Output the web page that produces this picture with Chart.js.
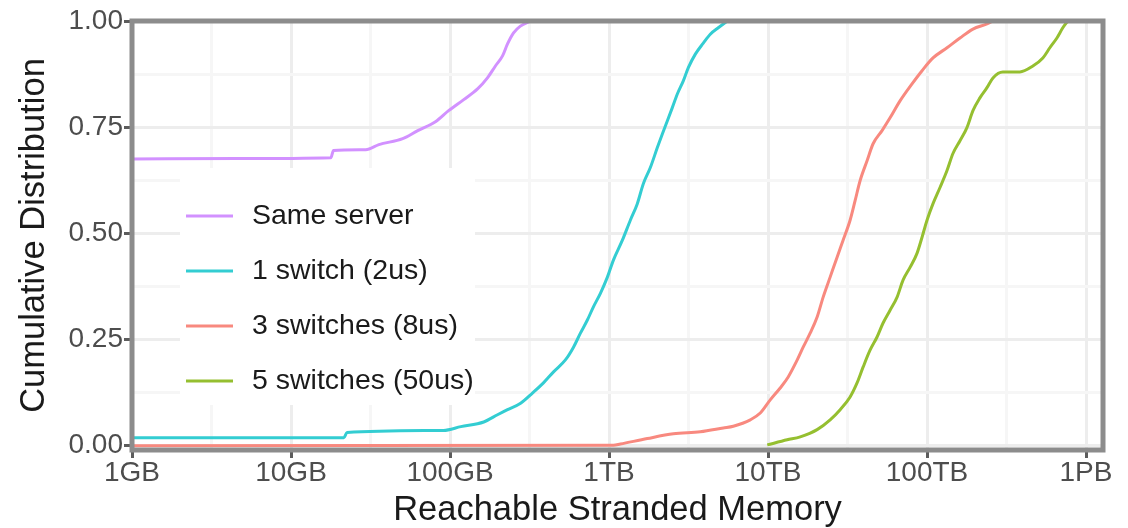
<!DOCTYPE html>
<html>
<head>
<meta charset="utf-8">
<script src="https://cdn.jsdelivr.net/npm/chart.js@4"></script>
<style>
  body { margin: 0; background: #fff; }
</style>
</head>
<body>
<canvas id="chart" width="1128" height="528"></canvas>
<script>
// memory sizes are in GB, values are cumulative fractions
const sameServerX = [1, 4.6, 17.8, 18.5, 29.5, 35.7, 50.4, 62.7, 81, 98, 122, 149, 172, 193, 214, 230, 251, 277, 321];
const sameServerY = [0.675, 0.676, 0.678, 0.695, 0.697, 0.709, 0.723, 0.742, 0.763, 0.789, 0.815, 0.840, 0.866, 0.894, 0.918, 0.946, 0.972, 0.988, 1.0];

const oneSwitchX = [1, 21.5, 22.5, 91, 117, 163, 199, 230, 278, 330, 387, 448, 532, 598, 661, 731, 798, 883, 977, 1066, 1214, 1362, 1507, 1644, 1820, 2014, 2165, 2329, 2502, 2690, 2933, 3155, 3491, 3918, 4335, 4866, 5546];
const oneSwitchY = [0.019, 0.019, 0.031, 0.036, 0.045, 0.056, 0.073, 0.085, 0.100, 0.124, 0.148, 0.174, 0.202, 0.232, 0.265, 0.296, 0.327, 0.359, 0.397, 0.437, 0.484, 0.531, 0.570, 0.617, 0.655, 0.702, 0.734, 0.765, 0.796, 0.828, 0.859, 0.890, 0.922, 0.948, 0.969, 0.984, 1.0];

const threeSwitchX = [1, 1066, 1179, 1742, 2541, 3751, 5233, 6050, 7740, 8940, 10330, 11930, 13400, 15270, 16640, 18410, 20370, 22230, 24590, 27200, 29670, 32830, 35300, 37940, 41980, 45810, 52150, 58570, 67660, 80500, 93070, 109100, 133600, 161200, 194500, 238300, 259900];
const threeSwitchY = [0.0, 0.001, 0.004, 0.017, 0.028, 0.033, 0.042, 0.046, 0.061, 0.077, 0.108, 0.136, 0.162, 0.202, 0.232, 0.265, 0.303, 0.350, 0.397, 0.444, 0.484, 0.531, 0.577, 0.624, 0.671, 0.711, 0.742, 0.772, 0.812, 0.852, 0.883, 0.913, 0.937, 0.960, 0.981, 0.993, 1.0];

const fiveSwitchX = [9890, 13200, 15950, 20370, 24590, 28430, 32830, 36310, 39620, 43830, 48500, 52940, 58570, 64860, 70680, 78220, 86500, 93070, 100000, 109100, 120700, 133600, 145600, 161200, 178300, 194500, 215100, 238300, 259900, 300100, 383800, 463300, 535400, 592300, 656200, 714700, 768400];
const fiveSwitchY = [0.002, 0.014, 0.021, 0.038, 0.061, 0.085, 0.115, 0.148, 0.185, 0.225, 0.256, 0.289, 0.319, 0.350, 0.390, 0.420, 0.453, 0.491, 0.531, 0.570, 0.608, 0.648, 0.688, 0.718, 0.749, 0.789, 0.819, 0.843, 0.866, 0.880, 0.880, 0.894, 0.913, 0.937, 0.960, 0.984, 1.0];

const seriesLabels = ['Same server', '1 switch (2us)', '3 switches (8us)', '5 switches (50us)'];
const seriesColors = ['#d291ff', '#33cdd2', '#f8897f', '#95bf30'];

const xTickValues = [1, 10, 100, 1000, 10000, 100000, 1000000];
const xTickLabels = ['1GB', '10GB', '100GB', '1TB', '10TB', '100TB', '1PB'];
const yTickValues = [0, 0.25, 0.5, 0.75, 1];

const FONT = '"Liberation Sans", Arial, sans-serif';

function points(xs, ys) {
    return xs.map((x, i) => ({ x: x, y: ys[i] }));
}

const seriesData = [
    points(sameServerX, sameServerY),
    points(oneSwitchX, oneSwitchY),
    points(threeSwitchX, threeSwitchY),
    points(fiveSwitchX, fiveSwitchY)
];

// majors on even index, minor (midpoint) lines on odd index
function withMinors(values, mid) {
    let out = [];
    values.forEach((v, i) => {
        out.push({ value: v });
        if (i < values.length - 1) out.push({ value: mid(v, values[i + 1]) });
    });
    return out;
}

const gridOpts = {
    color: c => c.index % 2 === 0 ? '#ededed' : '#f6f6f6',
    lineWidth: 3,
    tickColor: c => c.index % 2 === 0 ? '#5c5c5c' : 'rgba(0,0,0,0)',
    tickLength: 8,
    tickWidth: 3
};

// panel border and legend, drawn on top like in ggplot
const panelPlugin = {
    id: 'panel',
    afterDatasetsDraw(chart) {
        const { ctx, chartArea: a } = chart;
        ctx.save();
        ctx.strokeStyle = '#8c8c8c';
        ctx.lineWidth = 5;
        ctx.strokeRect(a.left, a.top, a.right - a.left, a.bottom - a.top);
        ctx.restore();
    },
    afterDraw(chart) {
        const ctx = chart.ctx;
        ctx.save();
        ctx.fillStyle = '#fff';
        ctx.fillRect(180, 168, 295, 237);
        chart.data.datasets.forEach((ds, i) => {
            let y = 216 + i * 55;
            ctx.strokeStyle = ds.borderColor;
            ctx.lineWidth = 3;
            ctx.beginPath();
            ctx.moveTo(186, y);
            ctx.lineTo(233, y);
            ctx.stroke();
            ctx.fillStyle = '#1a1a1a';
            ctx.font = '28.5px ' + FONT;
            ctx.textBaseline = 'middle';
            ctx.fillText(ds.label, 252, y);
        });
        ctx.restore();
    }
};

let ctx = document.getElementById('chart').getContext('2d');
new Chart(ctx, {
    type: 'scatter',
    data: {
        datasets: seriesData.map((d, i) => ({
            label: seriesLabels[i],
            data: d,
            showLine: true,
            borderColor: seriesColors[i],
            backgroundColor: seriesColors[i],
            borderWidth: 3,
            pointRadius: 0,
            cubicInterpolationMode: 'monotone'
        }))
    },
    options: {
        responsive: false,
        animation: false,
        layout: { padding: { top: 21, right: 25, left: 0, bottom: 0 } },
        plugins: {
            legend: { display: false },
            tooltip: { enabled: false }
        },
        scales: {
            x: {
                type: 'logarithmic',
                min: 1,
                max: 1279000,
                afterBuildTicks: s => { s.ticks = withMinors(xTickValues, (a, b) => Math.sqrt(a * b)); },
                afterFit: s => { s.height = 78; },
                border: { display: false },
                grid: gridOpts,
                ticks: {
                    autoSkip: false,
                    maxRotation: 0,
                    padding: 1,
                    color: '#4d4d4d',
                    font: { family: FONT, size: 28, lineHeight: 1 },
                    callback: (v, i) => i % 2 === 0 ? xTickLabels[i / 2] : ''
                },
                title: {
                    display: true,
                    text: 'Reachable Stranded Memory',
                    color: '#1a1a1a',
                    font: { family: FONT, size: 34.5, lineHeight: 1 },
                    padding: { top: 0, bottom: 0 }
                }
            },
            y: {
                min: -0.01,
                max: 1.0,
                afterBuildTicks: s => { s.ticks = withMinors(yTickValues, (a, b) => (a + b) / 2); },
                afterFit: s => { s.width = 132; },
                border: { display: false },
                grid: gridOpts,
                ticks: {
                    autoSkip: false,
                    padding: 1,
                    color: '#4d4d4d',
                    font: { family: FONT, size: 28, lineHeight: 1 },
                    callback: (v, i) => i % 2 === 0 ? v.toFixed(2) : ''
                },
                title: {
                    display: true,
                    text: 'Cumulative Distribution',
                    color: '#1a1a1a',
                    font: { family: FONT, size: 34.5, lineHeight: 1 },
                    padding: { top: 17, bottom: 0 }
                }
            }
        }
    },
    plugins: [panelPlugin]
});
</script>
</body>
</html>
